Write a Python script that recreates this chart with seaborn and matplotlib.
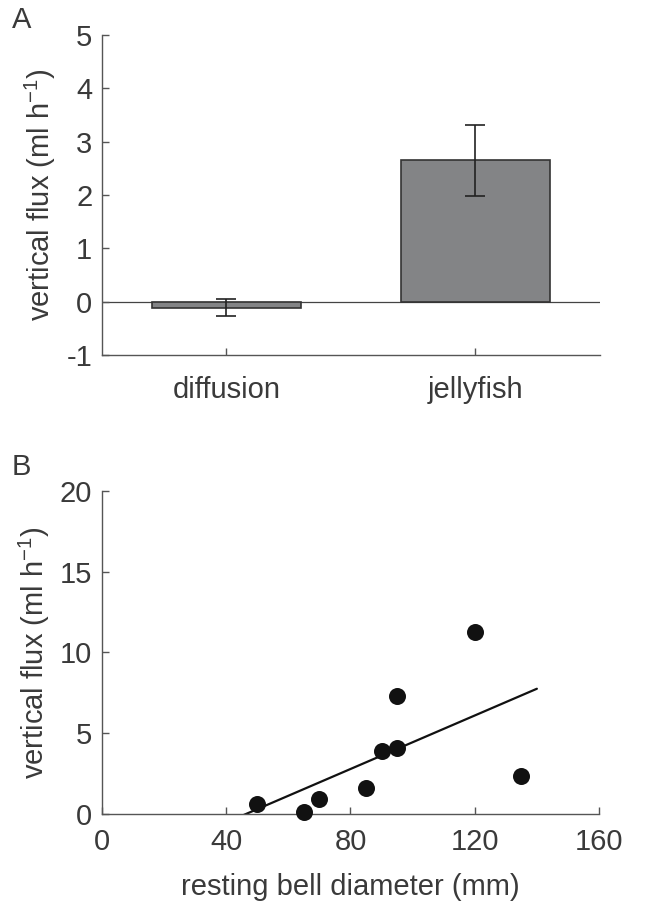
import numpy as np
import pandas as pd
import matplotlib
matplotlib.use("Agg")
import matplotlib.pyplot as plt
import seaborn as sns

sns.set_theme(style="ticks")
plt.rcParams['font.family'] = ['Liberation Sans', 'DejaVu Sans']
plt.rcParams['axes.unicode_minus'] = False
plt.rcParams['mathtext.default'] = 'regular'

# Panel A data
categories = ["diffusion", "jellyfish"]
flux_mean = [-0.11, 2.65]
flux_err = [0.16, 0.66]

# Panel B data
bell_diameter = [50, 65, 70, 85, 90, 95, 95, 120, 135]
bell_flux = [0.6, 0.1, 0.9, 1.6, 3.9, 4.1, 7.3, 11.25, 2.35]

TXT = "#3a3a3a"
SP = "#555555"
FS = 21

fig = plt.figure(figsize=(6.61, 9.02), dpi=100)
axA = fig.add_axes([0.1543, 0.6064, 0.7534, 0.3548])
axB = fig.add_axes([0.1543, 0.0976, 0.7519, 0.3581])

dfA = pd.DataFrame({"cat": categories, "flux": flux_mean})
sns.barplot(data=dfA, x="cat", y="flux", ax=axA, color="#838486", saturation=1,
            width=0.6, edgecolor="#333333", linewidth=1.2, errorbar=None)
axA.errorbar(range(len(categories)), flux_mean, yerr=flux_err, fmt="none",
             ecolor="#222222", elinewidth=1.2, capsize=7.5, capthick=1.2)
axA.axhline(0, color="#444444", lw=0.9, zorder=0.5)
axA.set_xlim(-0.5, 1.5)
axA.set_ylim(-1, 5)
axA.set_yticks([-1, 0, 1, 2, 3, 4, 5])
axA.set_xlabel("")
axA.set_ylabel("vertical flux (ml h$^{-1}$)", fontsize=FS, color=TXT, labelpad=6)

dfB = pd.DataFrame({"d": bell_diameter, "f": bell_flux})
slope, intercept = np.polyfit(bell_diameter, bell_flux, 1)
xl = np.array([40, 140])
sns.lineplot(x=xl, y=slope * xl + intercept, ax=axB, color="#111111", lw=1.6)
sns.scatterplot(data=dfB, x="d", y="f", ax=axB, color="#111111", s=150,
                edgecolor="#111111", linewidth=0, zorder=3)
for c in axB.collections:
    c.set_clip_on(False)
axB.set_xlim(0, 160)
axB.set_ylim(0, 20)
axB.set_xticks([0, 40, 80, 120, 160])
axB.set_yticks([0, 5, 10, 15, 20])
axB.set_xlabel("resting bell diameter (mm)", fontsize=FS, color=TXT, labelpad=12)
axB.set_ylabel("vertical flux (ml h$^{-1}$)", fontsize=FS, color=TXT, labelpad=6)

for ax in (axA, axB):
    sns.despine(ax=ax)
    for s in ("left", "bottom"):
        ax.spines[s].set_color(SP)
        ax.spines[s].set_linewidth(1.0)
    ax.tick_params(direction="in", length=5, width=1.0, color=SP,
                   labelsize=FS, labelcolor=TXT)
    ax.tick_params(axis="y", pad=7)
axA.tick_params(axis="x", pad=15)
axB.tick_params(axis="x", pad=10)

fig.text(0.018, 0.978, "A", fontsize=FS, color=TXT, va="center")
fig.text(0.018, 0.482, "B", fontsize=FS, color=TXT, va="center")

fig.savefig("out.png", dpi=100)
